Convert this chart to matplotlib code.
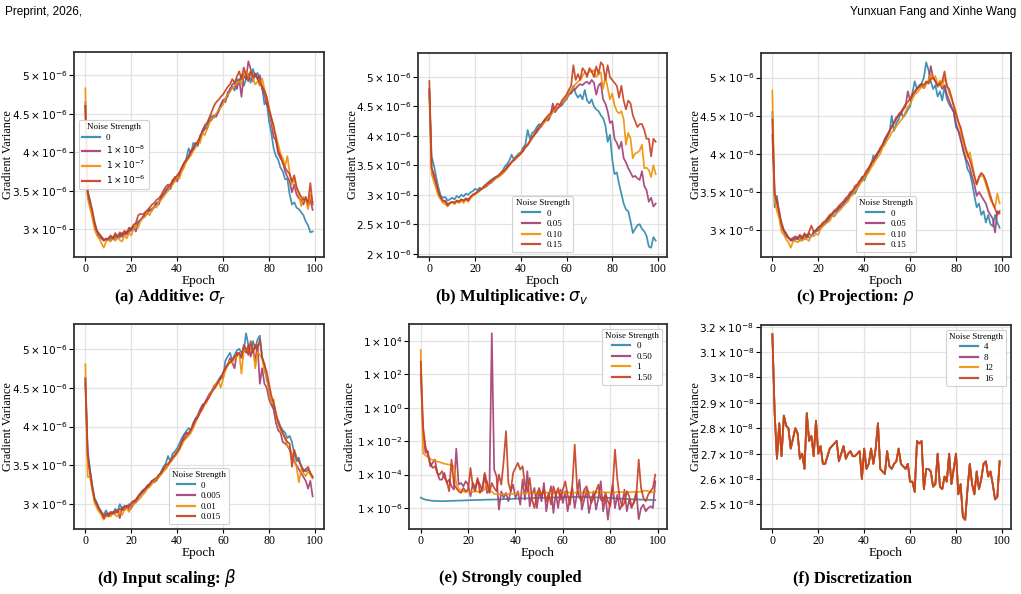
import numpy as np
import matplotlib
matplotlib.use("Agg")
import matplotlib.pyplot as plt
from matplotlib.ticker import FixedLocator, FuncFormatter, NullLocator

plt.rcParams['font.family'] = ['Liberation Serif', 'DejaVu Serif']
plt.rcParams['mathtext.fontset'] = 'dejavusans'

epochs = np.arange(100)
colors = ['#2E86AB', '#A23B72', '#F18F01', '#C73E1D']

# ---- (a) additive, values in 1e-6 ----
a_labels = ['0', r'$1\times10^{-8}$', r'$1\times10^{-7}$', r'$1\times10^{-6}$']
a_0 = [4.65, 3.50, 3.38, 3.22, 3.10, 2.98, 2.94, 2.90, 2.87, 2.86,
       2.88, 2.85, 2.90, 2.86, 2.92, 2.89, 2.95, 2.92, 2.97, 2.95,
       3.02, 3.00, 3.06, 3.10, 3.12, 3.15, 3.20, 3.22, 3.24, 3.27,
       3.28, 3.33, 3.36, 3.40, 3.45, 3.52, 3.50, 3.58, 3.62, 3.64,
       3.66, 3.70, 3.78, 3.85, 3.92, 4.05, 3.98, 4.12, 4.10, 4.08,
       4.22, 4.25, 4.30, 4.36, 4.42, 4.47, 4.45, 4.48, 4.52, 4.60,
       4.66, 4.70, 4.72, 4.83, 4.85, 4.80, 4.95, 4.90, 5.00, 4.86,
       4.95, 5.02, 4.90, 5.08, 4.98, 5.03, 4.92, 4.85, 4.62, 4.66,
       4.40, 4.25, 4.05, 3.95, 3.90, 3.80, 3.75, 3.65, 3.65, 3.45,
       3.32, 3.35, 3.28, 3.26, 3.22, 3.18, 3.10, 3.05, 2.96, 2.97]
a_1 = [4.60, 3.45, 3.30, 3.20, 3.05, 2.95, 2.90, 2.88, 2.85, 2.88,
       2.86, 2.90, 2.87, 2.92, 2.88, 2.94, 2.90, 2.96, 2.93, 3.00,
       2.98, 3.04, 2.97, 3.08, 3.12, 3.16, 3.18, 3.20, 3.26, 3.24,
       3.30, 3.34, 3.32, 3.42, 3.45, 3.48, 3.55, 3.52, 3.60, 3.68,
       3.62, 3.72, 3.80, 3.86, 3.88, 3.95, 4.02, 4.05, 4.12, 4.10,
       4.18, 4.28, 4.32, 4.30, 4.40, 4.42, 4.48, 4.46, 4.55, 4.62,
       4.68, 4.65, 4.78, 4.80, 4.88, 4.90, 4.82, 4.95, 4.72, 5.00,
       4.95, 5.18, 5.08, 4.92, 5.02, 4.95, 5.00, 4.82, 4.75, 4.62,
       4.55, 4.38, 4.20, 4.15, 3.98, 3.92, 3.88, 3.75, 3.68, 3.62,
       3.48, 3.58, 3.45, 3.40, 3.38, 3.32, 3.42, 3.30, 3.38, 3.25]
a_2 = [4.83, 3.40, 3.28, 3.15, 3.00, 2.92, 2.88, 2.82, 2.76, 2.84,
       2.86, 2.84, 2.88, 2.85, 2.90, 2.86, 2.84, 2.92, 2.88, 2.95,
       2.92, 3.00, 3.05, 3.02, 3.10, 3.14, 3.16, 3.22, 3.18, 3.25,
       3.30, 3.28, 3.35, 3.38, 3.42, 3.46, 3.50, 3.55, 3.58, 3.62,
       3.68, 3.66, 3.75, 3.80, 3.88, 3.92, 3.96, 4.02, 4.06, 4.15,
       4.12, 4.25, 4.22, 4.30, 4.38, 4.42, 4.46, 4.50, 4.55, 4.58,
       4.62, 4.70, 4.75, 4.78, 4.84, 4.86, 4.90, 4.92, 4.88, 5.02,
       5.05, 4.98, 5.05, 4.95, 4.88, 4.92, 4.86, 4.96, 4.82, 4.70,
       4.58, 4.45, 4.30, 4.22, 4.10, 3.98, 3.92, 3.82, 3.95, 3.72,
       3.58, 3.65, 3.52, 3.45, 3.30, 3.42, 3.38, 3.26, 3.45, 3.35]
a_3 = [4.60, 3.48, 3.36, 3.25, 3.08, 2.98, 2.94, 2.90, 2.86, 2.87,
       2.88, 2.92, 2.88, 2.95, 2.90, 2.96, 2.93, 2.98, 2.95, 3.02,
       3.00, 3.06, 3.08, 3.18, 3.20, 3.19, 3.22, 3.25, 3.28, 3.32,
       3.34, 3.38, 3.40, 3.44, 3.50, 3.55, 3.58, 3.56, 3.64, 3.66,
       3.70, 3.74, 3.80, 3.86, 3.90, 3.94, 4.00, 4.04, 4.10, 4.14,
       4.20, 4.28, 4.35, 4.38, 4.45, 4.52, 4.60, 4.65, 4.68, 4.72,
       4.75, 4.80, 4.85, 4.88, 4.95, 4.90, 4.98, 5.05, 4.95, 5.10,
       5.00, 4.92, 5.05, 4.98, 5.02, 4.95, 4.90, 4.85, 4.80, 4.72,
       4.55, 4.45, 4.35, 4.18, 4.02, 3.95, 3.85, 3.80, 3.75, 3.72,
       3.62, 3.70, 3.55, 3.48, 3.42, 3.38, 3.40, 3.35, 3.60, 3.32]

# ---- (b) multiplicative ----
b_labels = ['0', '0.05', '0.10', '0.15']
b_0 = [4.75, 3.65, 3.50, 3.30, 3.12, 2.98, 2.95, 2.96, 2.90, 2.92,
       2.95, 2.92, 2.98, 2.95, 3.00, 2.97, 3.02, 3.00, 3.04, 3.06,
       3.10, 3.08, 3.12, 3.10, 3.15, 3.18, 3.22, 3.25, 3.28, 3.30,
       3.32, 3.35, 3.40, 3.48, 3.52, 3.58, 3.68, 3.60, 3.65, 3.70,
       3.72, 3.80, 3.85, 4.10, 3.95, 4.05, 4.08, 4.15, 4.20, 4.18,
       4.25, 4.30, 4.28, 4.35, 4.42, 4.45, 4.48, 4.50, 4.52, 4.58,
       4.62, 4.70, 4.75, 4.85, 4.72, 4.65, 4.70, 4.62, 4.78, 4.60,
       4.55, 4.62, 4.50, 4.45, 4.42, 4.35, 4.30, 4.18, 3.90, 4.02,
       3.60, 3.35, 3.38, 3.18, 3.02, 2.85, 2.75, 2.72, 2.55, 2.35,
       2.42, 2.48, 2.50, 2.42, 2.38, 2.30, 2.12, 2.10, 2.28, 2.22]
b_1 = [4.80, 3.45, 3.30, 3.18, 3.02, 2.95, 2.88, 2.90, 2.84, 2.86,
       2.88, 2.86, 2.90, 2.88, 2.92, 2.90, 2.94, 2.92, 2.96, 3.00,
       3.02, 3.05, 3.08, 3.10, 3.12, 3.14, 3.18, 3.20, 3.24, 3.28,
       3.30, 3.34, 3.36, 3.40, 3.48, 3.52, 3.55, 3.58, 3.62, 3.66,
       3.70, 3.74, 3.80, 3.84, 3.90, 3.96, 4.02, 4.06, 4.12, 4.16,
       4.22, 4.28, 4.26, 4.35, 4.55, 4.40, 4.46, 4.50, 4.55, 4.60,
       4.65, 4.70, 4.72, 4.78, 4.80, 4.85, 4.88, 4.86, 4.90, 4.92,
       4.88, 4.95, 4.90, 4.70, 4.85, 4.90, 4.62, 4.55, 4.42, 4.22,
       4.25, 3.95, 3.88, 3.78, 3.90, 3.62, 3.55, 3.45, 3.38, 3.30,
       3.32, 3.28, 3.25, 3.40, 3.15, 3.08, 2.88, 2.95, 2.80, 2.85]
b_2 = [4.72, 3.35, 3.22, 3.10, 2.98, 2.92, 2.86, 2.84, 2.80, 2.85,
       2.88, 2.84, 2.88, 2.86, 2.90, 2.86, 2.92, 2.88, 2.94, 2.98,
       3.00, 3.04, 3.06, 3.10, 3.12, 3.16, 3.18, 3.22, 3.24, 3.28,
       3.30, 3.32, 3.36, 3.40, 3.44, 3.50, 3.55, 3.60, 3.62, 3.68,
       3.72, 3.76, 3.80, 3.85, 3.90, 3.98, 4.05, 4.10, 4.15, 4.18,
       4.22, 4.25, 4.32, 4.35, 4.40, 4.45, 4.50, 4.52, 4.56, 4.60,
       4.65, 4.72, 4.78, 4.82, 4.88, 4.92, 4.95, 5.02, 5.08, 5.05,
       5.10, 5.08, 5.12, 5.00, 5.05, 5.08, 4.80, 5.00, 4.82, 4.62,
       4.72, 4.52, 4.42, 4.38, 4.42, 4.28, 3.85, 4.05, 3.95, 3.62,
       3.70, 3.72, 3.75, 3.85, 3.45, 3.46, 3.42, 3.30, 3.50, 3.35]
b_3 = [4.93, 3.45, 3.35, 3.20, 3.05, 2.95, 2.90, 2.88, 2.82, 2.86,
       2.88, 2.86, 2.90, 2.88, 2.92, 2.90, 2.93, 2.90, 2.96, 3.00,
       3.02, 3.04, 3.08, 3.10, 3.14, 3.18, 3.20, 3.24, 3.26, 3.30,
       3.32, 3.36, 3.40, 3.42, 3.46, 3.50, 3.56, 3.60, 3.64, 3.66,
       3.70, 3.75, 3.82, 3.85, 3.92, 3.98, 4.02, 4.10, 4.15, 4.20,
       4.25, 4.30, 4.35, 4.38, 4.45, 4.48, 4.55, 4.52, 4.60, 4.65,
       4.70, 4.78, 4.85, 5.20, 4.95, 5.05, 4.95, 5.15, 5.10, 5.00,
       5.15, 5.10, 5.00, 5.18, 5.05, 5.25, 5.20, 4.95, 5.20, 5.00,
       4.95, 4.90, 4.85, 4.65, 4.85, 4.60, 4.45, 4.60, 4.55, 4.35,
       4.25, 4.15, 4.20, 4.20, 4.10, 3.95, 3.95, 3.65, 3.95, 3.90]

# ---- (c) projection ----
c_labels = ['0', '0.05', '0.10', '0.15']
c_0 = [4.55, 3.30, 3.45, 3.20, 3.10, 3.00, 2.96, 2.90, 2.88, 2.86,
       2.88, 2.90, 2.86, 2.92, 2.88, 2.94, 2.90, 2.92, 2.96, 2.98,
       3.00, 3.02, 3.06, 3.08, 3.12, 3.16, 3.20, 3.18, 3.24, 3.28,
       3.30, 3.34, 3.38, 3.40, 3.45, 3.50, 3.48, 3.55, 3.60, 3.70,
       3.65, 3.72, 3.78, 3.85, 3.98, 3.92, 4.00, 4.05, 4.10, 4.15,
       4.22, 4.28, 4.50, 4.30, 4.40, 4.45, 4.55, 4.48, 4.52, 4.58,
       4.62, 4.80, 4.95, 4.85, 4.90, 4.92, 5.00, 5.20, 5.10, 4.95,
       4.85, 4.90, 4.75, 4.82, 4.70, 4.88, 4.72, 4.65, 4.60, 4.55,
       4.35, 4.30, 4.25, 4.05, 3.95, 3.80, 3.75, 3.62, 3.45, 3.30,
       3.35, 3.20, 3.25, 3.10, 3.20, 3.08, 3.05, 3.20, 3.10, 3.03]
c_1 = [4.25, 3.45, 3.35, 3.22, 3.05, 2.98, 2.92, 2.90, 2.86, 2.88,
       2.90, 2.88, 2.92, 2.88, 2.94, 2.90, 2.96, 2.92, 2.98, 3.00,
       3.02, 3.05, 3.08, 3.10, 3.14, 3.18, 3.20, 3.24, 3.26, 3.30,
       3.32, 3.35, 3.40, 3.42, 3.48, 3.50, 3.55, 3.58, 3.62, 3.66,
       3.70, 3.75, 3.80, 3.88, 3.90, 3.95, 4.02, 4.05, 4.12, 4.20,
       4.25, 4.30, 4.35, 4.42, 4.48, 4.50, 4.52, 4.58, 4.62, 4.82,
       4.70, 4.75, 4.80, 4.85, 4.88, 4.90, 4.86, 4.92, 4.95, 5.15,
       5.00, 4.95, 4.88, 4.92, 4.85, 4.90, 4.78, 4.70, 4.62, 4.55,
       4.40, 4.30, 4.18, 4.08, 3.95, 3.90, 3.82, 3.70, 3.60, 3.45,
       3.50, 3.45, 3.40, 3.35, 3.25, 3.20, 3.15, 2.97, 3.25, 3.22]
c_2 = [4.83, 3.38, 3.25, 3.15, 2.98, 2.94, 2.88, 2.84, 2.77, 2.85,
       2.86, 2.84, 2.88, 2.86, 2.90, 2.88, 2.86, 2.94, 2.92, 2.95,
       2.94, 3.02, 3.05, 3.08, 3.10, 3.12, 3.18, 3.20, 3.22, 3.25,
       3.28, 3.32, 3.35, 3.38, 3.44, 3.46, 3.52, 3.55, 3.60, 3.64,
       3.68, 3.72, 3.76, 3.82, 3.86, 3.92, 3.96, 4.00, 4.08, 4.12,
       4.18, 4.22, 4.28, 4.32, 4.36, 4.40, 4.44, 4.48, 4.55, 4.62,
       4.65, 4.72, 4.78, 4.80, 4.84, 4.88, 4.86, 4.92, 4.96, 5.05,
       4.98, 5.02, 4.90, 4.96, 4.88, 5.00, 4.92, 4.80, 4.72, 4.65,
       4.55, 4.42, 4.30, 4.15, 4.05, 3.95, 4.02, 3.88, 3.72, 3.60,
       3.68, 3.72, 3.70, 3.60, 3.50, 3.40, 3.35, 3.30, 3.48, 3.35]
c_3 = [4.45, 3.48, 3.38, 3.25, 3.08, 3.00, 2.95, 2.90, 2.88, 2.90,
       2.92, 2.90, 2.94, 2.90, 2.96, 2.92, 2.98, 3.06, 2.98, 3.00,
       3.04, 3.06, 3.10, 3.12, 3.16, 3.20, 3.22, 3.26, 3.28, 3.32,
       3.35, 3.38, 3.42, 3.45, 3.50, 3.52, 3.58, 3.60, 3.65, 3.68,
       3.72, 3.78, 3.82, 3.86, 3.92, 3.98, 4.02, 4.08, 4.12, 4.18,
       4.24, 4.30, 4.36, 4.40, 4.45, 4.52, 4.55, 4.60, 4.65, 4.68,
       4.72, 4.78, 4.82, 4.86, 4.88, 4.92, 4.90, 4.95, 4.92, 4.98,
       5.00, 4.95, 4.90, 4.92, 4.95, 5.08, 4.88, 4.85, 4.75, 4.62,
       4.52, 4.42, 4.35, 4.22, 4.10, 4.00, 3.92, 3.82, 3.70, 3.60,
       3.70, 3.75, 3.72, 3.65, 3.55, 3.45, 3.35, 3.28, 3.20, 3.25]

# ---- (d) input scaling ----
d_labels = ['0', '0.005', '0.01', '0.015']
d_0 = [4.62, 3.70, 3.45, 3.25, 3.08, 3.02, 2.95, 2.90, 2.86, 2.92,
       2.86, 2.90, 2.88, 2.94, 2.90, 3.00, 2.94, 2.98, 2.95, 3.00,
       2.98, 3.04, 3.02, 3.08, 3.12, 3.15, 3.18, 3.22, 3.26, 3.28,
       3.32, 3.30, 3.36, 3.42, 3.48, 3.52, 3.62, 3.55, 3.65, 3.68,
       3.72, 3.78, 3.85, 3.90, 3.94, 3.98, 3.95, 4.05, 4.10, 4.12,
       4.20, 4.25, 4.30, 4.35, 4.40, 4.45, 4.50, 4.55, 4.60, 4.65,
       4.62, 4.85, 4.90, 4.95, 4.85, 4.92, 4.98, 5.00, 4.95, 4.98,
       5.20, 5.05, 4.95, 5.10, 5.00, 5.12, 5.17, 4.90, 4.80, 4.60,
       4.50, 4.30, 4.25, 4.12, 4.08, 4.00, 3.95, 3.92, 3.85, 3.88,
       3.80, 3.65, 3.55, 3.60, 3.48, 3.45, 3.42, 3.45, 3.40, 3.35]
d_1 = [4.55, 3.60, 3.40, 3.20, 3.05, 2.98, 2.92, 2.88, 2.84, 2.86,
       2.88, 2.86, 2.90, 2.88, 2.92, 2.82, 2.96, 2.92, 2.98, 2.92,
       2.95, 3.00, 3.05, 3.10, 3.14, 3.16, 3.20, 3.24, 3.26, 3.30,
       3.28, 3.32, 3.35, 3.40, 3.44, 3.46, 3.50, 3.54, 3.58, 3.62,
       3.66, 3.72, 3.80, 3.88, 3.92, 3.90, 3.95, 4.02, 4.10, 4.15,
       4.22, 4.28, 4.30, 4.36, 4.42, 4.45, 4.52, 4.55, 4.58, 4.62,
       4.68, 4.75, 4.80, 4.88, 4.82, 4.75, 4.95, 4.92, 4.88, 5.00,
       4.95, 5.05, 4.90, 5.00, 4.85, 5.05, 4.55, 4.75, 4.55, 4.50,
       4.35, 4.28, 4.22, 4.05, 3.95, 3.92, 3.80, 3.78, 3.75, 3.70,
       3.62, 3.55, 3.50, 3.45, 3.40, 3.35, 3.30, 3.20, 3.30, 3.10]
d_2 = [4.80, 3.35, 3.35, 3.18, 3.02, 2.95, 2.90, 2.86, 2.80, 2.84,
       2.86, 2.84, 2.88, 2.86, 2.84, 2.90, 2.86, 2.92, 2.95, 2.90,
       2.98, 3.00, 3.02, 3.05, 3.08, 3.12, 3.15, 3.20, 3.22, 3.26,
       3.30, 3.32, 3.35, 3.38, 3.42, 3.45, 3.50, 3.55, 3.58, 3.62,
       3.65, 3.70, 3.76, 3.82, 3.85, 3.88, 3.92, 3.98, 4.05, 4.12,
       4.18, 4.22, 4.28, 4.32, 4.40, 4.45, 4.50, 4.55, 4.58, 4.50,
       4.62, 4.72, 4.78, 4.85, 4.82, 4.88, 4.90, 4.95, 4.68, 4.98,
       5.00, 4.95, 4.98, 5.02, 4.75, 4.96, 4.92, 4.88, 4.70, 4.65,
       4.45, 4.30, 4.35, 4.15, 4.05, 3.95, 3.90, 3.85, 3.75, 3.72,
       3.65, 3.55, 3.48, 3.28, 3.45, 3.40, 3.36, 3.42, 3.38, 3.33]
d_3 = [4.62, 3.65, 3.42, 3.22, 3.06, 3.00, 2.94, 2.90, 2.82, 2.88,
       2.84, 2.90, 2.88, 2.92, 2.90, 2.94, 2.92, 2.96, 2.98, 2.96,
       3.02, 3.04, 3.06, 3.10, 3.14, 3.18, 3.20, 3.22, 3.25, 3.30,
       3.32, 3.34, 3.38, 3.40, 3.46, 3.50, 3.52, 3.56, 3.60, 3.64,
       3.68, 3.72, 3.80, 3.84, 3.88, 3.92, 3.96, 4.02, 4.08, 4.12,
       4.18, 4.24, 4.30, 4.34, 4.38, 4.44, 4.48, 4.52, 4.58, 4.62,
       4.70, 4.75, 4.80, 4.82, 4.86, 4.90, 4.92, 4.95, 4.90, 5.05,
       5.00, 4.92, 5.10, 4.95, 5.05, 5.00, 5.12, 4.88, 4.80, 4.70,
       4.55, 4.40, 4.30, 4.18, 4.05, 3.98, 3.92, 3.85, 3.80, 3.78,
       3.48, 3.70, 3.60, 3.55, 3.50, 3.42, 3.45, 3.48, 3.40, 3.35]

# ---- (e) strongly coupled, log10 of variance ----
e_labels = ['0', '0.50', '1', '1.50']
e_0 = [-5.38, -5.45, -5.50, -5.53, -5.55, -5.57, -5.58, -5.58, -5.59, -5.59,
       -5.59, -5.58, -5.58, -5.57, -5.57, -5.56, -5.56, -5.55, -5.55, -5.54,
       -5.54, -5.53, -5.53, -5.52, -5.52, -5.52, -5.51, -5.51, -5.50, -5.50,
       -5.50, -5.49, -5.49, -5.48, -5.48, -5.47, -5.47, -5.46, -5.46, -5.45,
       -5.45, -5.44, -5.44, -5.43, -5.43, -5.42, -5.42, -5.41, -5.41, -5.40,
       -5.40, -5.39, -5.39, -5.38, -5.38, -5.37, -5.37, -5.37, -5.36, -5.36,
       -5.36, -5.35, -5.35, -5.35, -5.35, -5.34, -5.34, -5.34, -5.34, -5.34,
       -5.35, -5.35, -5.35, -5.36, -5.36, -5.37, -5.37, -5.38, -5.38, -5.39,
       -5.40, -5.41, -5.42, -5.43, -5.44, -5.45, -5.46, -5.46, -5.47, -5.48,
       -5.48, -5.49, -5.49, -5.50, -5.50, -5.51, -5.51, -5.52, -5.52, -5.52]
e_1 = [2.00, -1.50, -2.70, -2.60, -3.50, -3.30, -3.10, -3.90, -4.30, -4.30,
       -3.90, -4.50, -4.30, -4.70, -4.90, -2.45, -4.60, -4.50, -4.70, -4.40,
       -4.60, -5.30, -4.50, -4.80, -4.30, -4.60, -5.00, -4.00, -5.10, -4.90,
       4.46, -3.70, -4.10, -6.10, -5.00, -5.40, -5.10, -5.60, -5.00, -4.60,
       -5.40, -5.00, -5.80, -4.30, -5.50, -3.80, -5.90, -5.20, -4.80, -6.00,
       -5.00, -5.60, -4.50, -6.20, -5.30, -4.70, -6.30, -5.10, -6.00, -4.90,
       -5.70, -5.00, -6.20, -5.40, -4.80, -6.00, -5.10, -4.30, -6.10, -5.50,
       -4.90, -6.30, -5.60, -5.00, -6.10, -5.40, -4.40, -6.20, -5.30, -6.70,
       -5.50, -4.60, -6.00, -5.20, -6.10, -5.80, -4.90, -6.20, -5.50, -6.00,
       -5.60, -5.00, -6.68, -6.00, -5.80, -6.20, -6.00, -5.90, -6.00, -4.40]
e_2 = [3.46, -2.73, -2.85, -2.95, -3.05, -3.12, -3.18, -3.22, -3.25, -3.30,
       -3.35, -3.38, -3.40, -3.45, -3.48, -4.55, -4.85, -4.95, -5.00, -5.05,
       -5.02, -5.00, -5.05, -4.98, -5.02, -5.05, -4.95, -4.90, -4.40, -5.05,
       -5.02, -5.15, -5.18, -5.16, -5.18, -5.15, -5.16, -5.17, -5.14, -5.16,
       -5.15, -5.13, -5.15, -5.12, -5.14, -5.10, -5.12, -5.09, -5.11, -5.08,
       -5.10, -5.08, -5.10, -5.07, -5.09, -5.08, -5.10, -5.07, -5.09, -5.08,
       -5.07, -5.09, -5.06, -5.08, -5.07, -5.09, -5.06, -5.08, -5.07, -5.05,
       -5.08, -5.06, -5.08, -5.05, -5.07, -5.06, -5.08, -5.05, -5.07, -5.06,
       -5.08, -5.05, -5.07, -5.04, -5.06, -5.05, -5.07, -5.04, -5.06, -5.05,
       -5.04, -5.06, -5.03, -5.02, -4.98, -4.95, -5.00, -5.04, -5.06, -5.03]
e_3 = [2.76, -1.13, -2.30, -2.80, -3.30, -3.60, -3.50, -3.90, -4.00, -3.80,
       -4.20, -4.40, -5.00, -3.10, -4.60, -4.80, -5.00, -5.10, -4.80, -5.00,
       -4.90, -3.60, -4.70, -5.00, -4.20, -5.10, -4.80, -3.90, -4.50, -5.10,
       -4.50, -4.80, -5.00, -4.00, -4.60, -3.20, -1.40, -4.50, -5.00, -3.90,
       -3.60, -3.30, -3.70, -3.50, -4.60, -5.00, -4.20, -5.50, -6.00, -5.20,
       -4.80, -5.30, -4.90, -5.60, -5.10, -5.80, -4.70, -5.20, -4.80, -5.50,
       -4.90, -4.40, -5.20, -5.80, -4.60, -2.20, -4.80, -5.40, -5.60, -4.90,
       -4.70, -5.20, -5.70, -5.40, -5.00, -4.60, -5.50, -5.60, -5.10, -5.60,
       -5.90, -4.80, -2.50, -4.30, -5.40, -5.90, -5.70, -5.00, -5.30, -5.90,
       -5.70, -5.30, -3.10, -4.80, -5.40, -5.60, -5.20, -5.00, -4.80, -4.00]

# ---- (f) discretization, values in 1e-8 (all four runs coincide) ----
f_labels = ['4', '8', '12', '16']
f_vals = [3.17, 2.86, 2.68, 2.82, 2.69, 2.85, 2.81, 2.80, 2.72, 2.76,
          2.80, 2.78, 2.68, 2.70, 2.64, 2.86, 2.75, 2.77, 2.69, 2.83,
          2.70, 2.73, 2.66, 2.66, 2.69, 2.72, 2.73, 2.74, 2.75, 2.67,
          2.70, 2.73, 2.68, 2.70, 2.71, 2.69, 2.69, 2.70, 2.71, 2.60,
          2.72, 2.64, 2.66, 2.72, 2.66, 2.72, 2.82, 2.64, 2.63, 2.62,
          2.71, 2.65, 2.64, 2.66, 2.67, 2.72, 2.66, 2.65, 2.64, 2.66,
          2.59, 2.59, 2.55, 2.75, 2.74, 2.75, 2.56, 2.64, 2.64, 2.63,
          2.57, 2.58, 2.70, 2.57, 2.56, 2.61, 2.59, 2.70, 2.58, 2.64,
          2.70, 2.54, 2.58, 2.45, 2.44, 2.56, 2.66, 2.58, 2.54, 2.63,
          2.56, 2.60, 2.66, 2.67, 2.61, 2.63, 2.58, 2.52, 2.53, 2.67]

# ---------------------------------------------------------------
fig = plt.figure(figsize=(10.21, 5.94), dpi=100)
W, H = 1021, 594


def add_ax(x0, y0, x1, y1):
    return fig.add_axes([x0 / W, 1 - y1 / H, (x1 - x0) / W, (y1 - y0) / H])


def sci(exp):
    def f(v, pos):
        m = v / 10 ** exp
        return r'$%s\times10^{%d}$' % (('%.2f' % m).rstrip('0').rstrip('.'), exp)
    return FuncFormatter(f)


def style(ax, ylab_x):
    ax.grid(True, color='#e3e3e3', lw=0.9)
    ax.set_axisbelow(True)
    for s in ax.spines.values():
        s.set_color('#333333')
        s.set_linewidth(1.3)
    ax.tick_params(axis='y', labelsize=7.6, length=3.5, pad=1.5)
    ax.tick_params(axis='x', labelsize=8.5, length=3, pad=1)
    ax.set_xticks([0, 20, 40, 60, 80, 100])
    ax.set_xlabel('Epoch', fontsize=9.5, labelpad=0)
    ax.set_ylabel('Gradient Variance', fontsize=8.8)
    ax.yaxis.set_label_coords(ylab_x, 0.5)


def draw(ax, series, labels, scale, loc):
    for vals, lab, c in zip(series, labels, colors):
        ax.plot(epochs, np.array(vals) * scale, color=c, lw=1.25, alpha=0.9, label=lab)
    leg = ax.legend(loc=loc, title='Noise Strength', fontsize=6.5, title_fontsize=6.5,
                    frameon=True, framealpha=0.9, edgecolor='#cccccc',
                    borderpad=0.35, labelspacing=0.25, handlelength=2.0,
                    handletextpad=0.7)
    for h in leg.get_lines():
        h.set_linewidth(1.6)
    leg.get_frame().set_linewidth(0.8)


panels = [
    ((74, 52, 324, 257), [a_0, a_1, a_2, a_3], a_labels, 1e-6, 'center left',
     [3e-6, 3.5e-6, 4e-6, 4.5e-6, 5e-6], -6, r'(a) Additive: $\sigma_r$', (170, 297), -0.238),
    ((418, 53, 667, 257), [b_0, b_1, b_2, b_3], b_labels, 1e-6, 'lower center',
     [2e-6, 2.5e-6, 3e-6, 3.5e-6, 4e-6, 4.5e-6, 5e-6], -6, r'(b) Multiplicative: $\sigma_v$', (512, 297), -0.236),
    ((761, 53, 1011, 257), [c_0, c_1, c_2, c_3], c_labels, 1e-6, 'lower center',
     [3e-6, 3.5e-6, 4e-6, 4.5e-6, 5e-6], -6, r'(c) Projection: $\rho$', (855, 297), -0.236),
    ((74, 324, 324, 529), [d_0, d_1, d_2, d_3], d_labels, 1e-6, 'lower center',
     [3e-6, 3.5e-6, 4e-6, 4.5e-6, 5e-6], -6, r'(d) Input scaling: $\beta$', (167, 578), -0.238),
]

for box, series, labels, scale, loc, ticks, exp, cap, cpos, ylx in panels:
    ax = add_ax(*box)
    draw(ax, series, labels, scale, loc)
    ax.yaxis.set_major_locator(FixedLocator(ticks))
    ax.yaxis.set_major_formatter(sci(exp))
    style(ax, ylx)
    fig.text(cpos[0] / W, 1 - cpos[1] / H, cap, ha='center', va='center',
             fontsize=12, fontweight='bold')

# (e) log scale
ax = add_ax(409, 324, 667, 529)
draw(ax, [10.0 ** np.array(v) for v in [e_0, e_1, e_2, e_3]], e_labels, 1.0, 'upper right')
ax.set_yscale('log')
ax.yaxis.set_major_locator(FixedLocator([1e-6, 1e-4, 1e-2, 1e0, 1e2, 1e4]))
ax.yaxis.set_minor_locator(NullLocator())
ax.yaxis.set_major_formatter(FuncFormatter(lambda v, p: r'$1\times10^{%d}$' % round(np.log10(v))))
style(ax, -0.205)
fig.text(510 / W, 1 - 578 / H, '(e) Strongly coupled', ha='center', va='center',
         fontsize=12, fontweight='bold')

# (f) discretization
ax = add_ax(761, 325, 1011, 529)
draw(ax, [f_vals] * 4, f_labels, 1e-8, 'upper right')
ax.yaxis.set_major_locator(FixedLocator([2.5e-8, 2.6e-8, 2.7e-8, 2.8e-8, 2.9e-8, 3e-8, 3.1e-8, 3.2e-8]))
ax.yaxis.set_major_formatter(sci(-8))
style(ax, -0.238)
fig.text(852 / W, 1 - 578 / H, '(f) Discretization', ha='center', va='center',
         fontsize=12, fontweight='bold')

# page header
fig.text(5 / W, 1 - 12 / H, 'Preprint, 2026,', ha='left', va='center',
         fontsize=8.5, family='Liberation Sans')
fig.text(1016 / W, 1 - 12 / H, 'Yunxuan Fang and Xinhe Wang', ha='right', va='center',
         fontsize=8.5, family='Liberation Sans')

fig.savefig('out.png', dpi=100)
